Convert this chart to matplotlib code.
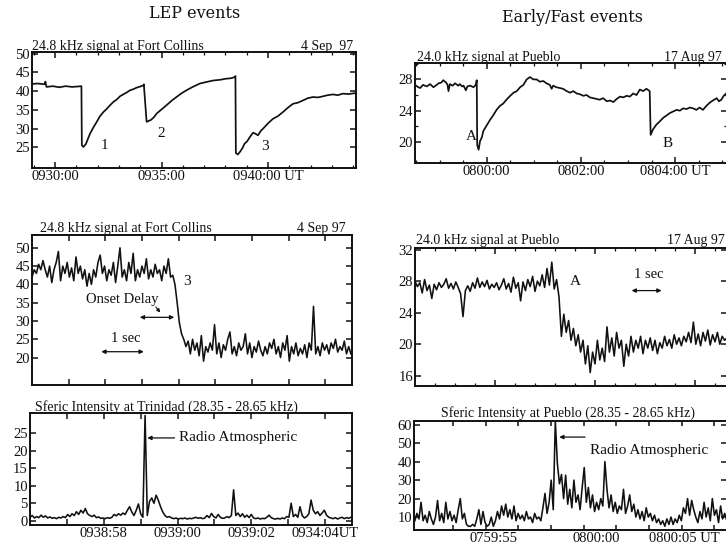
import numpy as np
import matplotlib
matplotlib.use('Agg')
import matplotlib.pyplot as plt
from matplotlib.ticker import FixedLocator, FixedFormatter, NullFormatter

# ---------------- data ----------------
# Panel 1: 24.8 kHz at Fort Collins, minutes after 09:00
p1_t = [28.92, 29.20, 29.50, 29.55, 29.60, 29.90, 30.20, 30.50, 30.80, 31.05, 31.24,
        31.26, 31.33, 31.45, 31.64, 31.80, 31.95, 32.10, 32.27, 32.42, 32.58, 32.74,
        32.89, 33.05, 33.20, 33.36, 33.52, 33.68, 33.83, 34.00, 34.15, 34.17,
        34.30, 34.50, 34.64, 34.77, 35.00, 35.23, 35.47, 35.70, 35.94, 36.17, 36.50,
        36.80, 37.10, 37.42, 37.75, 38.05, 38.25, 38.44, 38.47,
        38.49, 38.58, 38.67, 38.80, 38.90, 39.02, 39.14, 39.30, 39.42, 39.53, 39.65,
        39.77, 40.00, 40.23, 40.46, 40.70, 40.94, 41.17, 41.40, 41.64, 41.87, 42.10,
        42.35, 42.58, 42.80, 43.05, 43.28, 43.50, 43.80, 44.15]
p1_v = [41.9, 42.0, 41.8, 42.5, 41.1, 41.3, 41.0, 41.3, 41.1, 41.2, 41.3,
        25.6, 25.1, 25.9, 28.6, 30.3, 31.7, 33.2, 34.4, 35.2, 36.2, 37.1,
        37.7, 38.6, 39.1, 39.6, 40.2, 40.5, 40.9, 41.2, 41.5, 41.8,
        31.8, 32.3, 33.0, 34.0, 35.1, 36.2, 37.4, 38.4, 39.4, 40.2, 41.2,
        42.0, 42.4, 42.8, 43.0, 43.3, 43.4, 43.7, 44.0,
        23.5, 23.1, 23.7, 24.8, 26.0, 26.6, 27.7, 28.9, 28.6, 28.2, 29.3,
        30.0, 31.4, 32.6, 33.3, 34.4, 35.6, 36.6, 36.9, 37.5, 38.1, 38.4,
        38.3, 38.6, 38.9, 39.1, 38.9, 39.3, 39.2, 39.5]
p1_marks = ['1', '2', '3']
p1_marks_t = [32.34, 35.0, 39.84]
p1_marks_v = [25.5, 28.6, 25.1]
p1_ticks = [30, 35, 40]
p1_ticklabels = ['0930:00', '0935:00', '0940:00 UT']

# Panel 2: 24.0 kHz at Pueblo, minutes after 08:00
p2_t = [-1.52, -1.45, -1.41, -1.35, -1.27, -1.20, -1.13, -1.06, -1.02, -0.96, -0.92,
        -0.86, -0.83, -0.81, -0.78, -0.72, -0.67, -0.60, -0.57, -0.52, -0.49, -0.44,
        -0.41, -0.35, -0.28, -0.23, -0.21, -0.20, -0.17, -0.14, -0.10, -0.07, 0.00,
        0.07, 0.14, 0.21, 0.28, 0.35, 0.42, 0.50, 0.57, 0.64, 0.71, 0.78, 0.85, 0.92,
        0.99, 1.06, 1.13, 1.20, 1.27, 1.34, 1.38, 1.41, 1.48, 1.55, 1.62, 1.70, 1.77,
        1.84, 1.91, 1.98, 2.05, 2.12, 2.19, 2.26, 2.33, 2.40, 2.47, 2.55, 2.62, 2.69,
        2.76, 2.83, 2.90, 2.97, 3.04, 3.11, 3.18, 3.25, 3.32, 3.39, 3.46, 3.48, 3.53,
        3.60, 3.67, 3.75, 3.82, 3.89, 3.96, 4.03, 4.10, 4.17, 4.24, 4.31, 4.38, 4.45,
        4.52, 4.59, 4.66, 4.73, 4.80, 4.88, 4.93, 4.98, 5.03, 5.10]
p2_v = [27.3, 27.0, 26.9, 27.3, 27.1, 27.4, 27.0, 27.3, 27.5, 27.6, 27.9,
        27.6, 27.3, 26.5, 27.4, 27.2, 27.5, 27.2, 27.4, 27.1, 27.2, 26.6,
        27.1, 27.2, 27.0, 27.3, 27.9, 19.6, 19.0, 20.1, 20.6, 21.4, 22.1,
        22.8, 23.4, 24.1, 24.6, 24.9, 25.4, 25.9, 26.3, 26.5, 27.0, 27.3, 28.0, 28.3,
        28.0, 28.0, 27.7, 27.8, 27.5, 27.3, 26.8, 27.2, 27.0, 26.9, 26.8, 26.5, 26.3,
        26.5, 26.2, 26.1, 25.9, 26.0, 25.7, 25.6, 25.5, 25.4, 25.6, 25.2, 25.3, 25.1,
        25.5, 25.8, 25.7, 25.9, 25.8, 26.2, 26.0, 26.7, 26.5, 26.8, 26.5, 20.9, 21.6,
        22.2, 22.6, 23.1, 23.4, 23.7, 23.9, 24.1, 24.0, 24.3, 24.2, 24.4, 24.3, 24.1,
        24.4, 24.1, 24.6, 25.0, 25.3, 25.6, 25.2, 25.4, 25.9, 26.3]
p2_marks = ['A', 'B']
p2_marks_t = [-0.32, 3.85]
p2_marks_v = [20.7, 19.85]
p2_ticks = [0, 2, 4]
p2_ticklabels = ['0800:00', '0802:00', '0804:00 UT']

# Panel 3: 24.8 kHz at Fort Collins, fine time (s after 09:38:00), 0.06 s sampling
p3_start, p3_step = 56.0, 0.06
p3_pre = [42, 44, 43, 45.5, 44, 46.5, 44, 42, 45, 40.5, 44, 46, 49, 41, 45, 43, 46, 42,
          44.5, 41, 47.5, 43, 45, 41.5, 44, 39.5, 43, 40, 44, 42, 46, 48, 43, 45, 41, 44,
          42.5, 46, 40.5, 45, 50, 42, 44, 41, 46, 43, 48.5, 41, 44, 42, 45, 43, 47, 41.5,
          44, 42, 45.5, 43, 44, 41, 45, 43, 47, 42, 42.5]
p3_drop = [40, 35, 29.5, 26.5]
p3_post = [25, 23, 24.5, 21, 25, 22, 24, 20.5, 26, 19, 23, 21.5, 24, 22, 29, 21, 24, 20,
           23.5, 22, 25, 27, 21, 23, 20.5, 24, 22, 23, 26.5, 21, 24, 20, 23, 21.5, 24.5,
           22, 20.5, 23, 21, 24, 22.5, 25, 21, 23, 20, 24, 22, 26, 19, 23, 21, 24, 20.5,
           22.5, 21, 23.5, 20, 24, 22, 34, 21, 23, 20.5, 24, 22, 23.5, 21, 24, 22.5, 25,
           21.5, 23, 22, 24.5, 21, 23, 21]

# Panel 4: 24.0 kHz at Pueblo, fine time (arbitrary s), 0.08 s sampling
p4_step = 0.08
p4_vals = [28, 27.3, 27.8, 26.5, 28.2, 26.8, 27.5, 25.8, 27.6, 26.9, 27.8, 27.2, 27.6,
           28.3, 27.1, 27.7, 27.0, 27.9, 27.2, 26.4, 23.5, 26.8, 27.4, 26.7, 27.8, 27.1,
           28.4, 27.2, 27.9, 27.3, 28.1, 27.0, 27.6, 27.2, 27.8, 26.9, 27.5, 28.3, 27.0,
           27.7, 26.6, 28.5, 27.1, 27.8, 25.5, 27.9, 26.8, 28.2, 27.3, 28.6, 26.7, 28.0,
           27.4, 28.8, 27.2, 29.6, 27.5, 30.4, 27.0, 28.2, 26.0, 21.0, 23.8, 21.5, 23.0,
           20.5, 22.0, 19.8, 21.2, 19.0, 20.5, 17.5, 19.8, 16.4, 19.0, 17.5, 20.5, 18.0,
           19.5, 17.8, 22.2, 19.0, 20.8, 18.5, 21.5, 19.5, 20.5, 17.2, 20.0, 18.5, 21.0,
           19.0, 20.5, 19.5, 21.0, 18.8, 20.5, 19.5, 20.8, 19.2, 20.5, 18.8, 20.2, 19.5,
           21.0, 19.8, 20.6, 19.5, 21.2, 20.0, 20.8, 19.8, 21.0, 20.3, 21.5, 20.2, 22.8,
           20.0, 21.3, 19.8, 21.5, 20.4, 21.8, 19.9, 21.2, 20.3, 21.5, 20.0, 21.0, 20.5,
           20.8]

# Panel 5: sferic intensity at Trinidad, 0.06 s sampling
p5_start, p5_step = 56.0, 0.06
p5_vals = [1.0, 1.5, 0.8, 1.2, 0.9, 1.6, 1.0, 1.4, 0.8, 1.1, 0.7, 0.9, 0.6, 1.0, 0.8,
           1.2, 0.9, 1.8, 1.2, 2.0, 1.5, 2.6, 1.8, 3.0, 2.2, 3.5, 2.0, 1.5, 1.2, 1.6, 0.9,
           1.1, 0.7, 0.8, 0.6, 0.9, 0.7, 1.0, 1.8, 1.4, 2.0, 1.6, 2.2, 1.8, 3.0, 4.0, 2.5,
           1.5, 3.0, 4.8, 2.0, 1.0, 30.0, 1.5, 5.5, 6.5, 5.0, 7.3, 5.8, 4.0, 2.5, 1.5, 1.0,
           1.2, 0.8, 0.6, 0.8, 0.5, 0.7, 0.6, 0.8, 0.5, 0.7, 0.6, 0.8, 1.0, 0.7, 0.9, 0.6,
           0.8, 1.5, 0.9, 2.1, 1.2, 0.8, 1.8, 1.0, 0.7, 0.8, 1.2, 0.9, 1.5, 8.8, 1.5, 2.2,
           1.2, 2.0, 1.0, 1.6, 0.9, 1.8, 0.8, 0.6, 0.8, 0.5, 0.7, 0.6, 1.0, 1.6, 0.9, 0.6,
           0.5, 0.7, 0.5, 0.8, 0.6, 1.2, 1.0, 5.0, 1.2, 1.8, 1.0, 4.0, 1.5, 0.8, 1.2, 2.0,
           5.9, 3.0, 2.0, 2.6, 1.5, 2.2, 3.0, 1.6, 1.0, 0.8, 0.6, 0.9, 0.5, 0.8, 1.0, 0.6,
           0.9, 0.7, 1.0]
p5_ticks = [58, 60, 62, 64]
p5_ticklabels = ['0938:58', '0939:00', '0939:02', '0934:04UT']

# Panel 6: sferic intensity at Pueblo, s relative to 08:00:00, 0.1 s sampling
p6_start, p6_step = -8.8, 0.1
p6_vals = [8, 12, 9, 18, 8, 11, 7, 13, 9, 6, 10, 19, 8, 12, 7, 18, 9, 13, 8, 11, 7, 14,
           20, 9, 12, 6, 5, 5, 6, 5, 9, 14, 6, 13, 7, 5, 6, 10, 5, 8, 13, 9, 16, 11, 17,
           10, 14, 9, 16, 8, 12, 9, 11, 8, 13, 9, 10, 7, 12, 9, 10, 8, 15, 22.8, 12, 18,
           30, 14, 62, 39, 28, 33, 20, 32.7, 17, 25, 15, 30, 18, 22, 14, 26, 36.8, 18, 26,
           15, 22, 13, 18, 14, 20, 16, 40, 25, 15, 22, 13, 18, 12, 16, 14, 25, 12, 16, 22,
           13, 17, 10, 14, 9, 13, 8, 15, 10, 12, 8, 11, 7, 9, 6, 8, 5, 9, 6, 10, 6, 9, 7,
           11, 8, 15, 12, 20, 11, 19, 14, 10, 7, 13, 9, 18, 10, 15, 8, 20, 11, 14, 7, 16,
           9, 12, 8]
p6_ticks = [-5, 0, 4.23]
p6_ticklabels = ['0759:55', '0800:00', '0800:05 UT']

# ---------------- figure ----------------
W, H = 726, 550
fig = plt.figure(figsize=(W / 100, H / 100), dpi=100)
fig.patch.set_facecolor('white')
SERIF = ['Liberation Serif', 'DejaVu Serif']
plt.rcParams['font.family'] = SERIF
INK = '#111111'
TICK_FS = 10.5
SUB_FS = 10
ANN_FS = 11


def px_axes(l, t, r, b):
    return fig.add_axes([l / W, 1 - b / H, (r - l) / W, (b - t) / H])


def ftext(x, y, s, **kw):
    kw.setdefault('color', INK)
    return fig.text(x / W, 1 - y / H, s, **kw)


def style(ax):
    for sp in ax.spines.values():
        sp.set_linewidth(1.4)
        sp.set_color(INK)
    ax.tick_params(which='both', direction='in', top=True, right=True,
                   labelsize=TICK_FS, pad=1.5, colors=INK)
    ax.tick_params(which='major', length=4, width=1.1)
    ax.tick_params(which='minor', length=2.5, width=0.9)


LW = 1.25
LWN = 1.15

# Panel 1
ax1 = px_axes(32, 52, 356, 168)
ax1.plot(p1_t, p1_v, color=INK, lw=LW)
ax1.set_xlim(28.92, 44.13)
ax1.set_ylim(19.5, 50.4)
ax1.set_yticks([25, 30, 35, 40, 45, 50])
ax1.xaxis.set_major_locator(FixedLocator(p1_ticks))
ax1.xaxis.set_major_formatter(FixedFormatter(p1_ticklabels))
ax1.xaxis.set_minor_locator(FixedLocator(list(range(29, 45))))
style(ax1)
for m, t, v in zip(p1_marks, p1_marks_t, p1_marks_v):
    ax1.text(t, v, m, fontsize=ANN_FS, ha='center', va='center', color=INK)
ftext(32, 50, '24.8 kHz signal at Fort Collins', fontsize=SUB_FS, ha='left', va='baseline')
ftext(353, 50, '4 Sep  97', fontsize=SUB_FS, ha='right', va='baseline')

# Panel 2
ax2 = px_axes(415, 63, 727, 163)
ax2.plot(p2_t, p2_v, color=INK, lw=LW)
ax2.set_xlim(-1.52, 5.10)
ax2.set_ylim(17.3, 30.1)
ax2.set_yticks([20, 24, 28])
ax2.set_yticks([22, 26, 30], minor=True)
ax2.xaxis.set_major_locator(FixedLocator(p2_ticks))
ax2.xaxis.set_major_formatter(FixedFormatter(p2_ticklabels))
ax2.xaxis.set_minor_locator(FixedLocator([-1.5, -1, -0.5, 0.5, 1, 1.5, 2.5, 3, 3.5, 4.5, 5]))
style(ax2)
for m, t, v in zip(p2_marks, p2_marks_t, p2_marks_v):
    ax2.text(t, v, m, fontsize=ANN_FS, ha='center', va='center', color=INK)
ftext(417, 61, '24.0 kHz signal at Pueblo', fontsize=SUB_FS, ha='left', va='baseline')
ftext(722, 61, '17 Aug 97', fontsize=SUB_FS, ha='right', va='baseline')

# Panel 3
ax3 = px_axes(32, 235, 352, 385)
p3_vals = p3_pre + p3_drop + p3_post
p3_t = p3_start + p3_step * np.arange(len(p3_vals))
ax3.plot(p3_t, p3_vals, color=INK, lw=LWN)
ax3.set_xlim(56.0, 64.73)
ax3.set_ylim(12.5, 53.5)
ax3.set_yticks([20, 25, 30, 35, 40, 45, 50])
ax3.xaxis.set_major_locator(FixedLocator(list(range(57, 65))))
ax3.xaxis.set_major_formatter(NullFormatter())
style(ax3)
ax3.text(60.23, 40.7, '3', fontsize=ANN_FS, ha='center', va='center', color=INK)
ax3.text(58.45, 35.9, 'Onset Delay', fontsize=10.5, ha='center', va='center', color=INK)
ax3.annotate('', xy=(59.88, 31), xytext=(58.94, 31),
             arrowprops=dict(arrowstyle='<|-|>', color=INK, lw=0.9, mutation_scale=6,
                             shrinkA=0, shrinkB=0))
ax3.annotate('', xy=(59.5, 32.3), xytext=(59.38, 33.8),
             arrowprops=dict(arrowstyle='-|>', color=INK, lw=0.8, mutation_scale=5,
                             shrinkA=0, shrinkB=0))
ax3.text(58.55, 25.3, '1 sec', fontsize=10.5, ha='center', va='center', color=INK)
ax3.annotate('', xy=(59.05, 21.6), xytext=(57.89, 21.6),
             arrowprops=dict(arrowstyle='<|-|>', color=INK, lw=0.9, mutation_scale=6,
                             shrinkA=0, shrinkB=0))
ftext(40, 232, '24.8 kHz signal at Fort Collins', fontsize=SUB_FS, ha='left', va='baseline')
ftext(346, 232, '4 Sep 97', fontsize=SUB_FS, ha='right', va='baseline')

# Panel 4
ax4 = px_axes(415, 248, 727, 386)
p4_t = p4_step * np.arange(len(p4_vals))
ax4.plot(p4_t, p4_vals, color=INK, lw=LWN)
ax4.set_xlim(0, 10.4)
ax4.set_ylim(14.7, 32.2)
ax4.set_yticks([16, 20, 24, 28, 32])
ax4.xaxis.set_major_locator(FixedLocator([2.667, 6.0, 9.333]))
ax4.xaxis.set_major_formatter(NullFormatter())
ax4.xaxis.set_minor_locator(FixedLocator([0.667, 1.333, 2.0, 3.333, 4.0, 4.667, 5.333,
                                          6.667, 7.333, 8.0, 8.667, 10.0]))
style(ax4)
ax4.text(5.33, 27.9, 'A', fontsize=ANN_FS, ha='center', va='center', color=INK)
ax4.text(7.78, 28.8, '1 sec', fontsize=10.5, ha='center', va='center', color=INK)
ax4.annotate('', xy=(8.22, 26.8), xytext=(7.22, 26.8),
             arrowprops=dict(arrowstyle='<|-|>', color=INK, lw=0.9, mutation_scale=6,
                             shrinkA=0, shrinkB=0))
ftext(416, 244, '24.0 kHz signal at Pueblo', fontsize=SUB_FS, ha='left', va='baseline')
ftext(725, 244, '17 Aug 97', fontsize=SUB_FS, ha='right', va='baseline')

# Panel 5
ax5 = px_axes(30, 413, 352, 525)
p5_t = p5_start + p5_step * np.arange(len(p5_vals))
ax5.plot(p5_t, p5_vals, color=INK, lw=LWN)
ax5.set_xlim(56.0, 64.73)
ax5.set_ylim(-1.2, 30.7)
ax5.set_yticks([0, 5, 10, 15, 20, 25])
ax5.xaxis.set_major_locator(FixedLocator(p5_ticks))
ax5.xaxis.set_major_formatter(FixedFormatter(p5_ticklabels))
ax5.xaxis.set_minor_locator(FixedLocator([57, 59, 61, 63]))
style(ax5)
ax5.tick_params(axis='x', which='minor', length=4, width=1.1)
ax5.text(60.05, 23.8, 'Radio Atmospheric', fontsize=ANN_FS, ha='left', va='center', color=INK)
ax5.annotate('', xy=(59.18, 23.6), xytext=(59.92, 23.6),
             arrowprops=dict(arrowstyle='-|>', color=INK, lw=0.9, mutation_scale=6,
                             shrinkA=0, shrinkB=0))
ftext(35, 411, 'Sferic Intensity at Trinidad (28.35 - 28.65 kHz)', fontsize=SUB_FS,
      ha='left', va='baseline')

# Panel 6
ax6 = px_axes(414, 421, 727, 530)
p6_t = p6_start + p6_step * np.arange(len(p6_vals))
ax6.plot(p6_t, p6_vals, color=INK, lw=LWN)
ax6.set_xlim(-8.84, 6.31)
ax6.set_ylim(3.0, 62.0)
ax6.set_yticks([10, 20, 30, 40, 50, 60])
ax6.xaxis.set_major_locator(FixedLocator(p6_ticks))
ax6.xaxis.set_major_formatter(FixedFormatter(p6_ticklabels))
ax6.xaxis.set_minor_locator(FixedLocator([-6.95, -5.37, -3.79, -2.21, -0.63, 0.95,
                                          2.53, 4.11, 5.69]))
style(ax6)
ax6.tick_params(axis='x', which='major', length=0)
ax6.tick_params(axis='x', which='minor', length=3.5, width=1.1)
ax6.text(-0.32, 45.8, 'Radio Atmospheric', fontsize=ANN_FS, ha='left', va='center', color=INK)
ax6.annotate('', xy=(-1.81, 53.3), xytext=(-0.56, 53.3),
             arrowprops=dict(arrowstyle='-|>', color=INK, lw=0.9, mutation_scale=6,
                             shrinkA=0, shrinkB=0))
ftext(568, 417, 'Sferic Intensity at Pueblo (28.35 - 28.65 kHz)', fontsize=SUB_FS,
      ha='center', va='baseline')

# Column titles
ftext(195, 13, 'LEP events', fontsize=11.5, ha='center', va='center',
      family=['DejaVu Serif'])
ftext(572, 18, 'Early/Fast events', fontsize=11.5, ha='center', va='center',
      family=['DejaVu Serif'])

fig.savefig('out.png', dpi=100, facecolor='white')
